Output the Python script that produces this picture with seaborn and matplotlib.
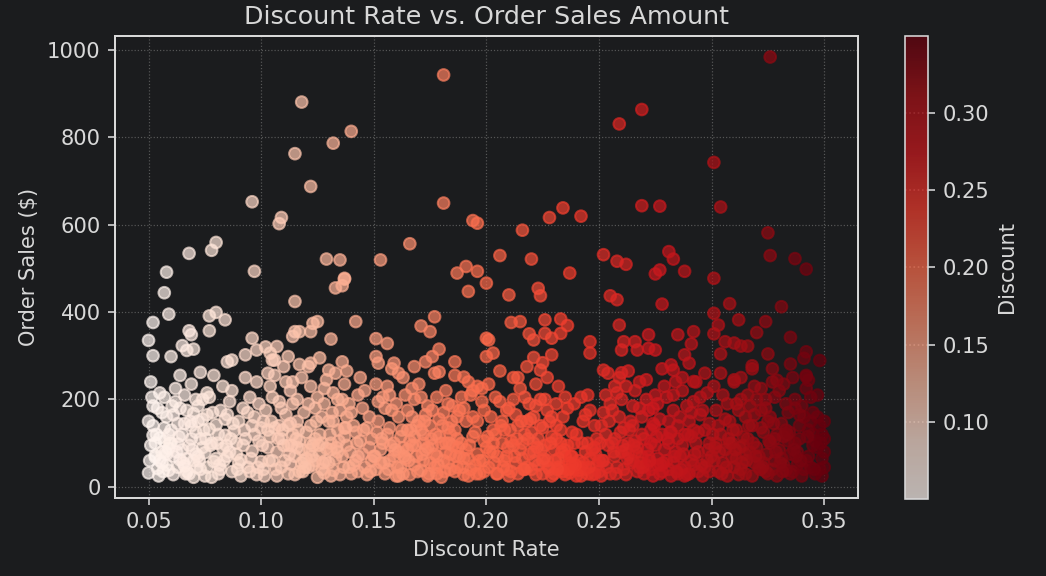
import numpy as np
import pandas as pd
import seaborn as sns
import matplotlib.pyplot as plt
from matplotlib.colors import Normalize
from matplotlib.cm import ScalarMappable

# sparse points above the dense band
upper_discount = [
    0.181, 0.118, 0.140, 0.132, 0.115, 0.122, 0.096, 0.181, 0.109, 0.108,
    0.194, 0.196, 0.166, 0.080, 0.078, 0.068, 0.129, 0.135, 0.153, 0.058,
    0.097, 0.191, 0.187, 0.196, 0.137, 0.326, 0.269, 0.259, 0.301, 0.269,
    0.277, 0.304, 0.234, 0.228, 0.242, 0.216, 0.325, 0.326, 0.337, 0.342,
    0.206, 0.220, 0.237, 0.252, 0.258, 0.262, 0.281, 0.283, 0.277, 0.275,
    0.288, 0.301, 0.057, 0.059, 0.052, 0.050, 0.052, 0.060, 0.068, 0.069,
    0.077, 0.065, 0.067, 0.070, 0.077, 0.080, 0.084, 0.085, 0.087, 0.093,
    0.096, 0.098, 0.115, 0.115, 0.114, 0.107, 0.104, 0.105, 0.112, 0.137,
    0.133, 0.136, 0.192, 0.200, 0.142, 0.123, 0.125, 0.122, 0.117, 0.131,
    0.151, 0.156, 0.151, 0.152, 0.159, 0.161, 0.177, 0.171, 0.175, 0.179,
    0.176, 0.173, 0.168, 0.179, 0.186, 0.190, 0.200, 0.200, 0.122, 0.130,
    0.136, 0.210, 0.223, 0.224, 0.255, 0.258, 0.278, 0.211, 0.215, 0.226,
    0.233, 0.236, 0.233, 0.229, 0.226, 0.219, 0.221, 0.201, 0.203, 0.246,
    0.246, 0.221, 0.225, 0.229, 0.224, 0.259, 0.272, 0.261, 0.266, 0.260,
    0.267, 0.272, 0.275, 0.252, 0.260, 0.282, 0.308, 0.331, 0.301, 0.303,
    0.301, 0.312, 0.324, 0.320, 0.335, 0.285, 0.292, 0.291, 0.306, 0.310,
    0.313, 0.316, 0.304, 0.325, 0.342, 0.341, 0.348, 0.335, 0.318, 0.288,
    0.290, 0.283, 0.292, 0.310, 0.329, 0.343, 0.342,
]
upper_sales = [
    942, 880, 813, 786, 762, 687, 652, 649, 616, 602,
    609, 603, 556, 559, 541, 534, 521, 519, 519, 491,
    493, 504, 489, 493, 477, 983, 863, 830, 742, 643,
    642, 640, 638, 616, 619, 587, 581, 529, 522, 498,
    529, 521, 489, 531, 516, 509, 538, 521, 496, 487,
    493, 477, 444, 395, 376, 335, 300, 298, 357, 348,
    357, 323, 312, 315, 391, 399, 382, 286, 290, 302,
    340, 313, 424, 355, 344, 321, 306, 290, 298, 475,
    455, 460, 447, 466, 378, 374, 378, 355, 355, 338,
    339, 328, 298, 283, 283, 260, 389, 368, 355, 315,
    298, 286, 275, 263, 286, 251, 340, 298, 283, 267,
    286, 439, 454, 437, 437, 428, 418, 376, 378, 382,
    384, 369, 351, 340, 351, 350, 336, 336, 306, 332,
    306, 296, 284, 302, 267, 370, 348, 332, 332, 313,
    313, 317, 313, 267, 261, 279, 419, 412, 397, 370,
    350, 382, 378, 353, 342, 348, 355, 327, 332, 329,
    322, 322, 304, 304, 309, 294, 289, 281, 277, 302,
    283, 267, 241, 245, 244, 244, 252,
]

# dense band below ~250 (estimated)
dense_discount = [
    # 0.05 - 0.10
    0.050, 0.051, 0.052, 0.053, 0.054, 0.055, 0.056, 0.057, 0.058, 0.059,
    0.050, 0.052, 0.054, 0.056, 0.058, 0.060, 0.061, 0.062, 0.063, 0.064,
    0.051, 0.053, 0.055, 0.057, 0.059, 0.061, 0.063, 0.065, 0.066, 0.067,
    0.065, 0.066, 0.067, 0.068, 0.069, 0.070, 0.071, 0.072, 0.073, 0.074,
    0.068, 0.069, 0.070, 0.071, 0.072, 0.073, 0.074, 0.075, 0.076, 0.077,
    0.075, 0.076, 0.077, 0.078, 0.079, 0.080, 0.081, 0.082, 0.083, 0.084,
    0.078, 0.080, 0.082, 0.084, 0.085, 0.086, 0.087, 0.088, 0.089, 0.090,
    0.085, 0.087, 0.089, 0.090, 0.091, 0.092, 0.093, 0.094, 0.095, 0.096,
    0.091, 0.092, 0.093, 0.094, 0.095, 0.096, 0.097, 0.098, 0.099, 0.100,
    0.097, 0.098, 0.099, 0.100, 0.058, 0.062, 0.064, 0.066, 0.070, 0.073,
    0.052, 0.055, 0.057, 0.060, 0.063, 0.071, 0.076, 0.079, 0.083, 0.086,
    0.053, 0.056, 0.059, 0.061, 0.064, 0.067, 0.069, 0.072, 0.074, 0.081,
    # 0.10 - 0.15
    0.101, 0.102, 0.103, 0.104, 0.105, 0.106, 0.107, 0.108, 0.109, 0.110,
    0.101, 0.103, 0.105, 0.107, 0.109, 0.111, 0.112, 0.113, 0.114, 0.115,
    0.110, 0.111, 0.112, 0.113, 0.114, 0.115, 0.116, 0.117, 0.118, 0.119,
    0.116, 0.117, 0.118, 0.119, 0.120, 0.121, 0.122, 0.123, 0.124, 0.125,
    0.120, 0.121, 0.122, 0.123, 0.124, 0.125, 0.126, 0.127, 0.128, 0.129,
    0.126, 0.127, 0.128, 0.129, 0.130, 0.131, 0.132, 0.133, 0.134, 0.135,
    0.130, 0.131, 0.132, 0.133, 0.134, 0.135, 0.136, 0.137, 0.138, 0.139,
    0.136, 0.137, 0.138, 0.139, 0.140, 0.141, 0.142, 0.143, 0.144, 0.145,
    0.140, 0.141, 0.142, 0.143, 0.144, 0.145, 0.146, 0.147, 0.148, 0.149,
    0.146, 0.147, 0.148, 0.149, 0.150, 0.102, 0.104, 0.106, 0.108, 0.112,
    0.114, 0.116, 0.118, 0.122, 0.124, 0.126, 0.128, 0.132, 0.134, 0.138,
    0.103, 0.106, 0.109, 0.113, 0.117, 0.121, 0.127, 0.131, 0.137, 0.143,
    # 0.15 - 0.20
    0.151, 0.152, 0.153, 0.154, 0.155, 0.156, 0.157, 0.158, 0.159, 0.160,
    0.151, 0.153, 0.155, 0.157, 0.159, 0.161, 0.162, 0.163, 0.164, 0.165,
    0.160, 0.161, 0.162, 0.163, 0.164, 0.165, 0.166, 0.167, 0.168, 0.169,
    0.166, 0.167, 0.168, 0.169, 0.170, 0.171, 0.172, 0.173, 0.174, 0.175,
    0.170, 0.171, 0.172, 0.173, 0.174, 0.175, 0.176, 0.177, 0.178, 0.179,
    0.176, 0.177, 0.178, 0.179, 0.180, 0.181, 0.182, 0.183, 0.184, 0.185,
    0.180, 0.181, 0.182, 0.183, 0.184, 0.185, 0.186, 0.187, 0.188, 0.189,
    0.186, 0.187, 0.188, 0.189, 0.190, 0.191, 0.192, 0.193, 0.194, 0.195,
    0.190, 0.191, 0.192, 0.193, 0.194, 0.195, 0.196, 0.197, 0.198, 0.199,
    0.196, 0.197, 0.198, 0.199, 0.200, 0.154, 0.158, 0.163, 0.168, 0.172,
    0.177, 0.182, 0.186, 0.190, 0.194, 0.199, 0.152, 0.156, 0.161, 0.167,
    0.171, 0.174, 0.178, 0.183, 0.187, 0.192, 0.196, 0.157, 0.165, 0.184,
    # 0.20 - 0.25
    0.201, 0.202, 0.203, 0.204, 0.205, 0.206, 0.207, 0.208, 0.209, 0.210,
    0.201, 0.203, 0.205, 0.207, 0.209, 0.211, 0.212, 0.213, 0.214, 0.215,
    0.210, 0.211, 0.212, 0.213, 0.214, 0.215, 0.216, 0.217, 0.218, 0.219,
    0.216, 0.217, 0.218, 0.219, 0.220, 0.221, 0.222, 0.223, 0.224, 0.225,
    0.220, 0.221, 0.222, 0.223, 0.224, 0.225, 0.226, 0.227, 0.228, 0.229,
    0.226, 0.227, 0.228, 0.229, 0.230, 0.231, 0.232, 0.233, 0.234, 0.235,
    0.230, 0.231, 0.232, 0.233, 0.234, 0.235, 0.236, 0.237, 0.238, 0.239,
    0.236, 0.237, 0.238, 0.239, 0.240, 0.241, 0.242, 0.243, 0.244, 0.245,
    0.240, 0.241, 0.242, 0.243, 0.244, 0.245, 0.246, 0.247, 0.248, 0.249,
    0.246, 0.247, 0.248, 0.249, 0.250, 0.203, 0.206, 0.209, 0.214, 0.218,
    0.222, 0.227, 0.231, 0.235, 0.238, 0.242, 0.245, 0.248, 0.233, 0.229,
    0.204, 0.208, 0.212, 0.217, 0.221, 0.225, 0.232, 0.239, 0.244, 0.250,
    # 0.25 - 0.30
    0.251, 0.252, 0.253, 0.254, 0.255, 0.256, 0.257, 0.258, 0.259, 0.260,
    0.251, 0.253, 0.255, 0.257, 0.259, 0.261, 0.262, 0.263, 0.264, 0.265,
    0.260, 0.261, 0.262, 0.263, 0.264, 0.265, 0.266, 0.267, 0.268, 0.269,
    0.266, 0.267, 0.268, 0.269, 0.270, 0.271, 0.272, 0.273, 0.274, 0.275,
    0.270, 0.271, 0.272, 0.273, 0.274, 0.275, 0.276, 0.277, 0.278, 0.279,
    0.276, 0.277, 0.278, 0.279, 0.280, 0.281, 0.282, 0.283, 0.284, 0.285,
    0.280, 0.281, 0.282, 0.283, 0.284, 0.285, 0.286, 0.287, 0.288, 0.289,
    0.286, 0.287, 0.288, 0.289, 0.290, 0.291, 0.292, 0.293, 0.294, 0.295,
    0.290, 0.291, 0.292, 0.293, 0.294, 0.295, 0.296, 0.297, 0.298, 0.299,
    0.296, 0.297, 0.298, 0.299, 0.300, 0.254, 0.258, 0.263, 0.268, 0.274,
    0.278, 0.283, 0.287, 0.292, 0.297, 0.256, 0.262, 0.271, 0.276, 0.288,
    0.252, 0.257, 0.265, 0.269, 0.273, 0.281, 0.285, 0.291, 0.294, 0.299,
    # 0.30 - 0.35
    0.301, 0.302, 0.303, 0.304, 0.305, 0.306, 0.307, 0.308, 0.309, 0.310,
    0.301, 0.303, 0.305, 0.307, 0.309, 0.311, 0.312, 0.313, 0.314, 0.315,
    0.310, 0.311, 0.312, 0.313, 0.314, 0.315, 0.316, 0.317, 0.318, 0.319,
    0.316, 0.317, 0.318, 0.319, 0.320, 0.321, 0.322, 0.323, 0.324, 0.325,
    0.320, 0.321, 0.322, 0.323, 0.324, 0.325, 0.326, 0.327, 0.328, 0.329,
    0.326, 0.327, 0.328, 0.329, 0.330, 0.331, 0.332, 0.333, 0.334, 0.335,
    0.330, 0.331, 0.332, 0.333, 0.334, 0.335, 0.336, 0.337, 0.338, 0.339,
    0.336, 0.337, 0.338, 0.339, 0.340, 0.341, 0.342, 0.343, 0.344, 0.345,
    0.340, 0.341, 0.342, 0.343, 0.344, 0.345, 0.346, 0.347, 0.348, 0.349,
    0.346, 0.347, 0.348, 0.349, 0.350, 0.304, 0.308, 0.313, 0.318, 0.322,
    0.327, 0.332, 0.337, 0.342, 0.347, 0.350, 0.350, 0.350, 0.349, 0.344,
    0.302, 0.306, 0.311, 0.315, 0.319, 0.324, 0.328, 0.333, 0.339, 0.345,
]
dense_sales = [
    # 0.05 - 0.10
    32, 95, 140, 68, 180, 112, 55, 205, 160, 88,
    150, 118, 42, 170, 75, 130, 28, 195, 98, 62,
    240, 72, 215, 105, 38, 165, 145, 85, 210, 35,
    120, 48, 175, 95, 140, 22, 200, 70, 110, 155,
    30, 235, 60, 125, 185, 40, 90, 25, 165, 132,
    78, 45, 205, 100, 58, 142, 30, 175, 88, 118,
    22, 65, 40, 155, 70, 195, 35, 128, 100, 55,
    165, 220, 75, 150, 25, 180, 110, 45, 205, 140,
    62, 95, 250, 170, 35, 82, 120, 28, 190, 58,
    160, 240, 105, 135, 50, 225, 255, 145, 168, 262,
    185, 60, 135, 100, 45, 75, 215, 255, 230, 80,
    100, 80, 120, 70, 180, 65, 110, 150, 200, 120,
    # 0.10 - 0.15
    40, 175, 90, 230, 60, 135, 25, 195, 110, 275,
    150, 260, 205, 80, 45, 165, 30, 220, 120, 70,
    95, 240, 140, 52, 190, 28, 150, 105, 250, 60,
    200, 35, 85, 170, 125, 45, 230, 95, 180, 22,
    65, 275, 140, 50, 110, 205, 75, 160, 32, 245,
    120, 40, 190, 88, 150, 25, 215, 65, 130, 175,
    55, 100, 38, 260, 80, 28, 200, 115, 160, 45,
    70, 235, 95, 190, 30, 140, 60, 210, 105, 75,
    170, 50, 125, 35, 250, 180, 45, 135, 90, 60,
    220, 28, 160, 110, 70, 320, 115, 290, 140, 95,
    240, 90, 55, 100, 60, 295, 225, 150, 200, 265,
    130, 255, 180, 145, 280, 190, 100, 85, 135, 70,
    # 0.15 - 0.20
    40, 150, 85, 205, 30, 120, 60, 175, 100, 25,
    235, 55, 180, 135, 70, 160, 45, 90, 210, 130,
    190, 80, 115, 30, 65, 175, 105, 225, 50, 140,
    28, 95, 200, 70, 150, 38, 120, 85, 185, 55,
    235, 130, 60, 165, 25, 140, 95, 45, 205, 115,
    175, 75, 30, 155, 100, 60, 220, 135, 40, 185,
    22, 170, 80, 55, 120, 95, 35, 160, 70, 205,
    130, 45, 175, 100, 28, 150, 65, 210, 115, 50,
    180, 85, 240, 40, 160, 125, 75, 30, 195, 105,
    150, 60, 225, 35, 90, 100, 270, 250, 115, 100,
    260, 100, 255, 65, 220, 175, 195, 230, 25, 160,
    205, 90, 70, 190, 110, 25, 230, 210, 85, 75,
    # 0.20 - 0.25
    45, 160, 80, 120, 30, 195, 100, 60, 175, 25,
    235, 130, 70, 150, 40, 105, 200, 55, 140, 85,
    180, 35, 95, 165, 30, 225, 65, 120, 45, 190,
    100, 205, 150, 75, 40, 160, 28, 110, 200, 60,
    125, 80, 235, 50, 140, 30, 95, 175, 40, 115,
    200, 60, 150, 25, 85, 190, 45, 130, 35, 70,
    30, 110, 65, 42, 160, 28, 95, 55, 125, 40,
    180, 32, 70, 100, 25, 60, 45, 150, 80, 30,
    120, 38, 205, 55, 40, 100, 65, 28, 140, 50,
    175, 85, 30, 110, 60, 100, 265, 70, 250, 275,
    185, 250, 140, 205, 50, 25, 210, 90, 100, 160,
    205, 130, 250, 40, 100, 135, 230, 190, 165, 35,
    # 0.25 - 0.30
    140, 60, 210, 95, 30, 175, 110, 45, 250, 80,
    25, 120, 190, 70, 160, 40, 230, 100, 55, 185,
    200, 135, 28, 75, 150, 60, 105, 35, 180, 120,
    220, 90, 45, 160, 30, 200, 70, 130, 25, 95,
    110, 50, 175, 40, 145, 210, 65, 30, 120, 85,
    190, 155, 35, 230, 60, 100, 25, 175, 80, 140,
    205, 40, 125, 55, 240, 30, 160, 95, 45, 185,
    70, 220, 120, 28, 150, 60, 195, 100, 35, 165,
    30, 115, 50, 240, 80, 205, 25, 130, 60, 100,
    175, 45, 215, 145, 70, 260, 215, 265, 240, 180,
    270, 210, 250, 130, 260, 100, 85, 245, 50, 25,
    170, 230, 140, 70, 100, 150, 110, 170, 125, 35,
    # 0.30 - 0.35
    60, 175, 35, 120, 210, 85, 25, 150, 100, 45,
    230, 140, 55, 190, 70, 130, 28, 200, 95, 160,
    240, 65, 175, 40, 115, 30, 210, 80, 140, 55,
    110, 185, 25, 165, 90, 45, 225, 125, 35, 150,
    200, 70, 135, 55, 180, 30, 100, 240, 60, 120,
    160, 40, 205, 25, 85, 145, 50, 190, 105, 30,
    220, 65, 115, 38, 170, 75, 250, 100, 50, 140,
    35, 200, 80, 110, 25, 160, 60, 130, 45, 95,
    185, 40, 225, 70, 150, 120, 30, 90, 140, 65,
    105, 160, 40, 120, 80, 260, 100, 250, 270, 175,
    270, 235, 180, 255, 210, 150, 110, 45, 25, 205,
    100, 155, 190, 75, 230, 200, 110, 130, 165, 170,
]

# extra low-value orders filling the bottom of the band (estimated)
low_discount = [
    0.0505, 0.0535, 0.0565, 0.0595, 0.0625, 0.0655, 0.0685, 0.0715, 0.0745, 0.0775,
    0.0805, 0.0835, 0.0865, 0.0895, 0.0925, 0.0955, 0.0985, 0.0515, 0.0545, 0.0575,
    0.0605, 0.0635, 0.0665, 0.0695, 0.0725, 0.0755, 0.0785, 0.0815, 0.0845, 0.0875,
    0.1005, 0.1035, 0.1065, 0.1095, 0.1125, 0.1155, 0.1185, 0.1215, 0.1245, 0.1275,
    0.1305, 0.1335, 0.1365, 0.1395, 0.1425, 0.1455, 0.1485, 0.1015, 0.1045, 0.1075,
    0.1105, 0.1135, 0.1165, 0.1195, 0.1225, 0.1255, 0.1285, 0.1315, 0.1345, 0.1375,
    0.1505, 0.1535, 0.1565, 0.1595, 0.1625, 0.1655, 0.1685, 0.1715, 0.1745, 0.1775,
    0.1805, 0.1835, 0.1865, 0.1895, 0.1925, 0.1955, 0.1985, 0.1515, 0.1545, 0.1575,
    0.1605, 0.1635, 0.1665, 0.1695, 0.1725, 0.1755, 0.1785, 0.1815, 0.1845, 0.1875,
    0.2005, 0.2035, 0.2065, 0.2095, 0.2125, 0.2155, 0.2185, 0.2215, 0.2245, 0.2275,
    0.2305, 0.2335, 0.2365, 0.2395, 0.2425, 0.2455, 0.2485, 0.2015, 0.2045, 0.2075,
    0.2105, 0.2135, 0.2165, 0.2195, 0.2225, 0.2255, 0.2285, 0.2315, 0.2345, 0.2375,
    0.2505, 0.2535, 0.2565, 0.2595, 0.2625, 0.2655, 0.2685, 0.2715, 0.2745, 0.2775,
    0.2805, 0.2835, 0.2865, 0.2895, 0.2925, 0.2955, 0.2985, 0.2515, 0.2545, 0.2575,
    0.2605, 0.2635, 0.2665, 0.2695, 0.2725, 0.2755, 0.2785, 0.2815, 0.2845, 0.2875,
    0.3005, 0.3035, 0.3065, 0.3095, 0.3125, 0.3155, 0.3185, 0.3215, 0.3245, 0.3275,
    0.3305, 0.3335, 0.3365, 0.3395, 0.3425, 0.3455, 0.3485, 0.3015, 0.3045, 0.3075,
    0.3105, 0.3135, 0.3165, 0.3195, 0.3225, 0.3255, 0.3285, 0.3315, 0.3345, 0.3375,
]
low_sales = [
    60, 120, 35, 100, 80, 55, 150, 45, 130, 95,
    100, 60, 110, 40, 130, 65, 45, 205, 25, 80,
    185, 115, 30, 85, 60, 110, 170, 50, 95, 145,
    95, 60, 40, 130, 75, 110, 35, 85, 150, 55,
    120, 90, 45, 80, 100, 130, 35, 25, 150, 110,
    60, 95, 130, 45, 70, 95, 60, 170, 105, 135,
    70, 110, 40, 85, 130, 60, 95, 75, 30, 120,
    140, 100, 70, 45, 95, 30, 60, 125, 55, 95,
    45, 70, 130, 35, 150, 110, 50, 35, 150, 90,
    115, 55, 140, 90, 70, 150, 110, 60, 85, 45,
    60, 80, 40, 50, 100, 45, 75, 80, 30, 45,
    130, 110, 40, 155, 90, 65, 100, 40, 85, 70,
    100, 45, 80, 125, 65, 95, 55, 85, 140, 50,
    110, 70, 40, 120, 75, 50, 85, 60, 150, 30,
    95, 130, 80, 45, 60, 115, 55, 125, 35, 75,
    120, 80, 45, 130, 90, 60, 100, 40, 75, 145,
    55, 120, 85, 60, 115, 40, 100, 90, 30, 110,
    85, 55, 140, 70, 45, 105, 80, 35, 125, 70,
]

BG = "#1b1c1e"
FG = "#d8d8d8"

df = pd.DataFrame({
    "discount": upper_discount + dense_discount + low_discount,
    "sales": upper_sales + dense_sales + low_sales,
})

sns.set_style("dark", rc={
    "figure.facecolor": BG,
    "axes.facecolor": BG,
    "axes.edgecolor": FG,
    "axes.labelcolor": FG,
    "text.color": FG,
    "xtick.color": FG,
    "ytick.color": FG,
    "xtick.bottom": True,
    "ytick.left": True,
    "axes.grid": True,
    "grid.color": "#666666",
    "grid.linestyle": ":",
    "grid.linewidth": 0.6,
})
plt.rcParams["font.family"] = ["DejaVu Sans"]

fig = plt.figure(figsize=(1046 / 144, 576 / 144), dpi=144)
ax = fig.add_axes([0.1097, 0.1349, 0.7106, 0.8026])
cax = fig.add_axes([0.8652, 0.1337, 0.0223, 0.8038])

vmin, vmax = df["discount"].min(), df["discount"].max()
sns.scatterplot(data=df, x="discount", y="sales", hue="discount",
                palette="Reds", hue_norm=(vmin, vmax), s=34, alpha=0.7,
                edgecolor="face", linewidth=1.0, legend=False, ax=ax)

ax.set_title("Discount Rate vs. Order Sales Amount", fontsize=12.7, color=FG)
ax.set_xlabel("Discount Rate", fontsize=10.5)
ax.set_ylabel(r"Order Sales (\$)", fontsize=10.5)
ax.tick_params(labelsize=10.5)
ax.grid(True, color="#666666", linestyle=":", linewidth=0.6, alpha=0.8)
for sp in ax.spines.values():
    sp.set_color(FG)
    sp.set_linewidth(1.0)

sm = ScalarMappable(norm=Normalize(vmin, vmax), cmap="Reds")
cbar = fig.colorbar(sm, cax=cax, alpha=0.7)
cbar.set_ticks([0.10, 0.15, 0.20, 0.25, 0.30])
cbar.set_label("Discount", color=FG, fontsize=10.5)
cbar.outline.set_edgecolor(FG)
cbar.ax.tick_params(colors=FG, labelsize=10.5)

fig.savefig("out.png", dpi=144, facecolor=BG)
